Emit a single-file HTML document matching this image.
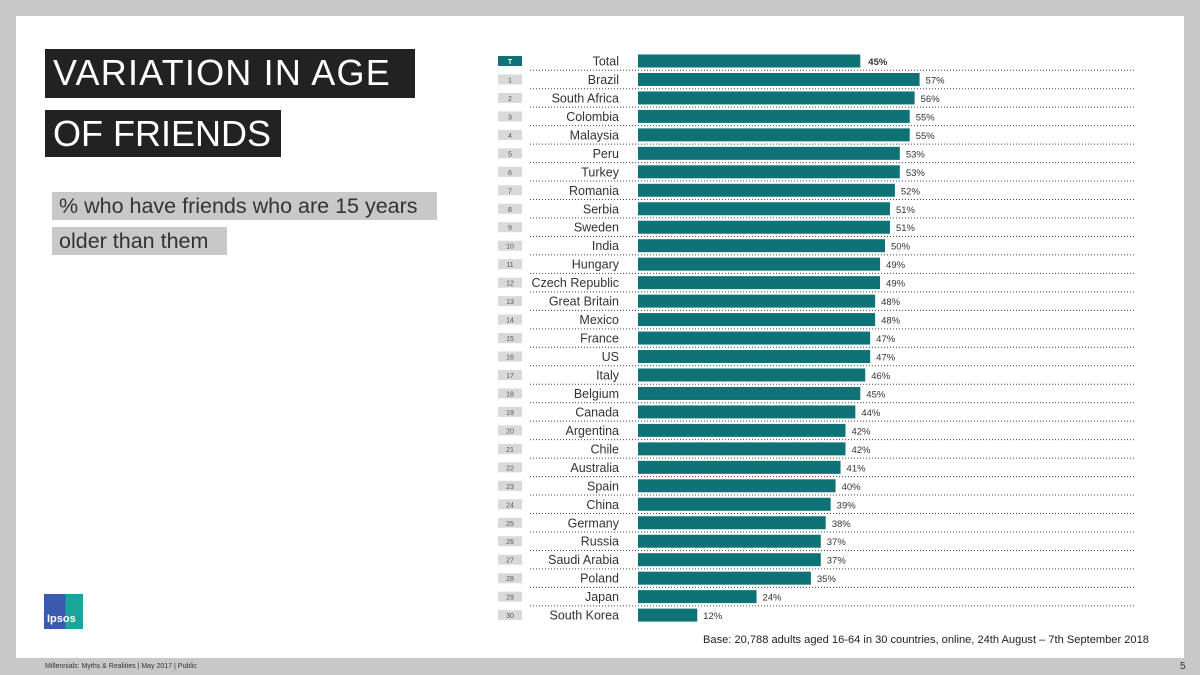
<!DOCTYPE html>
<html><head><meta charset="utf-8"><style>
body{margin:0;width:1200px;height:675px;background:#c8c8c8;position:relative;overflow:hidden;font-family:"Liberation Sans",sans-serif}
.slide{position:absolute;left:16px;top:16px;width:1168px;height:642px;background:#fff}
.tb{position:absolute;background:#222;color:#fff;font-size:36px;line-height:48px;padding:0 8px;box-sizing:border-box;white-space:nowrap}
.sb{position:absolute;background:#c8c8c8;color:#333;font-size:21.5px;line-height:28px;padding:0 7px;white-space:nowrap}
</style></head><body>
<div class="slide"></div>
<div class="tb" style="left:45px;top:49px;width:370px;height:49px;letter-spacing:1.2px">VARIATION IN AGE</div>
<div class="tb" style="left:45px;top:110px;width:236px;height:47px">OF FRIENDS</div>
<div class="sb" style="left:52px;top:192px;width:371px">% who have friends who are 15 years</div>
<div class="sb" style="left:52px;top:227px;width:161px">older than them</div>
<div style="position:absolute;left:44px;top:594px;width:39px;height:35px;background:linear-gradient(90deg,#3a5ab0 55%,#1aa59a 55%);color:#fff;font-size:11px;font-weight:bold;display:flex;align-items:flex-end;padding:0 0 4px 3px;box-sizing:border-box">Ipsos</div>
<div style="position:absolute;left:45px;top:663px;font-size:7px;color:#333">Millennials: Myths &amp; Realities | May 2017 | Public</div>
<div style="position:absolute;left:1180px;top:661px;font-size:10px;color:#333">5</div>
<div style="position:absolute;left:703px;top:634px;font-size:11.1px;color:#222">Base: 20,788 adults aged 16-64 in 30 countries, online, 24th August – 7th September 2018</div>
<svg id="chart" style="position:absolute;left:0;top:0" width="1200" height="675"></svg>
<script>
const categories=["Total","Brazil","South Africa","Colombia","Malaysia","Peru","Turkey","Romania","Serbia","Sweden","India","Hungary","Czech Republic","Great Britain","Mexico","France","US","Italy","Belgium","Canada","Argentina","Chile","Australia","Spain","China","Germany","Russia","Saudi Arabia","Poland","Japan","South Korea"];
const values=[45,57,56,55,55,53,53,52,51,51,50,49,49,48,48,47,47,46,45,44,42,42,41,40,39,38,37,37,35,24,12];
const ranks=["T","1","2","3","4","5","6","7","8","9","10","11","12","13","14","15","16","17","18","19","20","21","22","23","24","25","26","27","28","29","30"];
const svg=document.getElementById('chart');const NS="http://www.w3.org/2000/svg";
const x0=638,k=4.94,y0=61,step=18.47;
const xs=v=>x0+v*k, ys=i=>y0+i*step;
function mk(t,a,txt){const e=document.createElementNS(NS,t);for(const q in a)e.setAttribute(q,a[q]);if(txt!=null)e.textContent=txt;svg.appendChild(e);return e;}
categories.forEach((c,i)=>{
 const y=ys(i);
 const b=mk('rect',{x:498,y:y-5,width:24,height:10,fill:i==0?'#0e7277':'#d9d9d9'});
 
 const r=mk('text',{x:510,y:y+3,'font-size':7,'text-anchor':'middle',fill:i==0?'#fff':'#555','font-weight':i==0?'bold':'normal'},ranks[i]);
 
 const l=mk('text',{x:619,y:y+4.5,'font-size':12.5,'text-anchor':'end',fill:'#333'},c);
 
 const bar=mk('rect',{x:x0,y:y-6.5,width:xs(values[i])-x0,height:13,fill:'#0e7277'});
 
 const v=mk('text',{x:xs(values[i])+(i==0?8:6),y:y+4,'font-size':9.5,fill:'#333','font-weight':i==0?'bold':'normal'},values[i]+'%');
 
 if(i<categories.length-1){const d=mk('line',{x1:530,x2:1134,y1:y+step/2,y2:y+step/2,stroke:'#444','stroke-width':1,'stroke-dasharray':'1,2'});
 }
});
</script>
</body></html>
